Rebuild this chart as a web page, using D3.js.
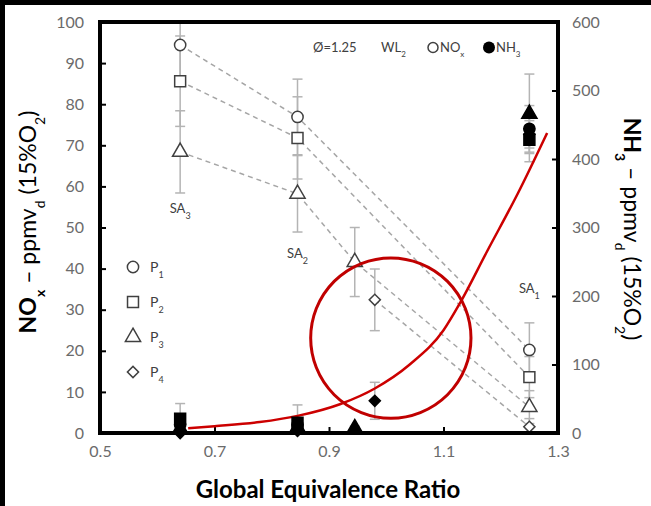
<!DOCTYPE html>
<html><head><meta charset="utf-8">
<script src="https://cdn.jsdelivr.net/npm/d3@7"></script>
<style>
html,body{margin:0;padding:0;background:#fff;}
svg{display:block;}
text{font-family:Lato,"Open Sans",sans-serif;}
</style></head>
<body>
<svg id="chart" width="651" height="506"></svg>
<script>
// ---------- data ----------
const xTicks = [0.5, 0.7, 0.9, 1.1, 1.3];
const yLeftTicks = [0,10,20,30,40,50,60,70,80,90,100];
const yRightTicks = [0,100,200,300,400,500,600];

// NOx (left axis) [phi, value, error]
const noxP1 = [[0.64,94.4,10],[0.845,76.9,9.2],[1.25,20.2,6.6]];
const noxP2 = [[0.64,85.6,11],[0.845,71.8,10],[1.25,13.6,5]];
const noxP3 = [[0.64,68.4,10],[0.845,58.2,9.3],[0.945,41.6,8.4],[1.25,6.3,4]];
const noxP4 = [[0.98,32.4,7.5],[1.25,1.5,2]];

// NH3 (right axis) [phi, value, error]
const nh3P1 = [[0.64,12,8],[0.845,12,8],[1.25,444,34]];
const nh3P2 = [[0.64,21,22],[0.845,15,26],[1.25,428,32]];
const nh3P3 = [[0.64,6,5],[0.845,8,5],[0.945,7,3],[1.25,466,58]];
const nh3P4 = [[0.64,0,3],[0.845,3,3],[0.98,47,27],[1.25,436,20]];

// red trend curve (right axis)
const trend = [[0.654,7],[0.70,10],[0.779,16],[0.845,25],[0.919,42],[0.98,65],[1.041,100],[1.10,150],[1.129,190],[1.176,265],[1.23,350],[1.281,438]];

// red highlight ellipse (left-axis units)
const highlight = {x:1.008, y:23.1, rx:0.14, ry:19.5};

// SA labels [phi, leftValue, number]
const saLabels = [[0.64,53.5,"3"],[0.845,42.5,"2"],[1.25,34.0,"1"]];
const legendNames = ["1","2","3","4"];

// ---------- layout ----------
const svg = d3.select("#chart");
const W = 651, H = 506;
const m = {l:100, t:22, r:93, b:73};
const w = W - m.l - m.r, h = H - m.t - m.b;

svg.append("rect").attr("x",0).attr("y",0).attr("width",W).attr("height",5).attr("fill","#000");
svg.append("rect").attr("x",0).attr("y",0).attr("width",5).attr("height",H).attr("fill","#000");

const x = d3.scaleLinear().domain([0.5,1.3]).range([0,w]);
const yL = d3.scaleLinear().domain([0,100]).range([h,0]);
const yR = d3.scaleLinear().domain([0,600]).range([h,0]);

const g = svg.append("g").attr("transform",`translate(${m.l},${m.t})`);

const grey = "#a6a6a6";
const errGrey = "#b4b4b4";
const tickCol = "#6b6b6b";

// axes
function styleAxis(sel){
  sel.select(".domain").remove();
  sel.selectAll(".tick line").attr("stroke","#000").attr("stroke-width",2);
  sel.selectAll(".tick text").attr("fill",tickCol).style("font-size","16px").style("font-family","Lato, sans-serif");
}
g.append("g").call(d3.axisLeft(yL).tickValues(yLeftTicks).tickSize(-6).tickPadding(16)).call(styleAxis);
g.append("g").attr("transform",`translate(${w},0)`).call(d3.axisRight(yR).tickValues(yRightTicks).tickSize(-6).tickPadding(14)).call(styleAxis);
g.append("g").attr("transform",`translate(0,${h})`).call(d3.axisBottom(x).tickValues(xTicks).tickFormat(d3.format(".1f")).tickSize(-6).tickPadding(13)).call(styleAxis);

// dashed connecting lines
const lineL = d3.line().x(d=>x(d[0])).y(d=>yL(d[1]));
[noxP1,noxP2,noxP3,noxP4].forEach(s=>{
  g.append("path").attr("d",lineL(s)).attr("fill","none").attr("stroke",grey)
   .attr("stroke-width",1.5).attr("stroke-dasharray","5,4");
});

// error bars
function errBars(series, ys){
  series.forEach(d=>{
    const cx = x(d[0]), y1 = ys(Math.min(ys.domain()[1], d[1]+d[2])), y0 = ys(Math.max(0,d[1]-d[2]));
    g.append("line").attr("x1",cx).attr("x2",cx).attr("y1",y1).attr("y2",y0).attr("stroke",errGrey).attr("stroke-width",1.5);
    [y1,y0].forEach(yy=>g.append("line").attr("x1",cx-5).attr("x2",cx+5).attr("y1",yy).attr("y2",yy).attr("stroke",errGrey).attr("stroke-width",1.5));
  });
}
[noxP1,noxP2,noxP3,noxP4].forEach(s=>errBars(s,yL));
[nh3P1,nh3P2,nh3P3,nh3P4].forEach(s=>errBars(s,yR));

// red trend curve
const lineR = d3.line().x(d=>x(d[0])).y(d=>yR(d[1])).curve(d3.curveMonotoneX);
g.append("path").attr("d",lineR(trend)).attr("fill","none").attr("stroke","#cc0000").attr("stroke-width",2.5);

// markers
const shapes = [
  {t:d3.symbolCircle, s:100, rot:0},
  {t:d3.symbolSquare, s:120, rot:0},
  {t:d3.symbolTriangle, s:100, rot:0},
  {t:d3.symbolSquare, s:62, rot:45}
];
function markers(series, ys, k, filled){
  const sh = shapes[k];
  series.forEach(d=>{
    g.append("path").attr("d",d3.symbol().type(sh.t).size(sh.s)())
     .attr("transform",`translate(${x(d[0])},${ys(d[1])}) rotate(${sh.rot})`)
     .attr("fill",filled?"#000":"#fff").attr("stroke",filled?"#000":"#404040").attr("stroke-width",1.5);
  });
}
[nh3P4,nh3P1,nh3P2,nh3P3].forEach((s,i)=>markers(s,yR,[3,0,1,2][i],true));
[noxP1,noxP2,noxP3,noxP4].forEach((s,i)=>markers(s,yL,i,false));

// highlight ellipse
g.append("ellipse").attr("cx",x(highlight.x)).attr("cy",yL(highlight.y))
 .attr("rx",x(highlight.x+highlight.rx)-x(highlight.x)).attr("ry",yL(0)-yL(highlight.ry))
 .attr("fill","none").attr("stroke","#c00000").attr("stroke-width",3);

// frame
g.append("rect").attr("x",0).attr("y",0).attr("width",w).attr("height",h).attr("fill","none").attr("stroke","#000").attr("stroke-width",4);

// SA labels
saLabels.forEach(d=>{
  const t = g.append("text").attr("x",x(d[0])).attr("y",yL(d[1])).attr("text-anchor","middle")
   .attr("fill","#404040").style("font-size","13px");
  t.append("tspan").text("SA");
  t.append("tspan").attr("baseline-shift","sub").style("font-size","9px").text(d[2]);
});

// P legend
legendNames.forEach((n,i)=>{
  const ly = 245 + i*35, lx = 33;
  const sh = shapes[i];
  g.append("path").attr("d",d3.symbol().type(sh.t).size(sh.s)())
   .attr("transform",`translate(${lx},${ly}) rotate(${sh.rot})`)
   .attr("fill","#fff").attr("stroke","#404040").attr("stroke-width",1.5);
  const t = g.append("text").attr("x",lx+17).attr("y",ly+5).attr("fill","#404040").style("font-size","14px");
  t.append("tspan").text("P");
  t.append("tspan").attr("baseline-shift","sub").style("font-size","9px").text(n);
});

// top legend
const tl = g.append("g").attr("fill","#404040").style("font-size","13px");
tl.append("text").attr("x",213).attr("y",30).text("Ø=1.25");
const wl = tl.append("text").attr("x",281).attr("y",30);
wl.append("tspan").text("WL");
wl.append("tspan").attr("baseline-shift","sub").style("font-size","8px").text("2");
g.append("circle").attr("cx",333).attr("cy",25.5).attr("r",5).attr("fill","#fff").attr("stroke","#404040").attr("stroke-width",1.5);
const nx = tl.append("text").attr("x",340).attr("y",30);
nx.append("tspan").text("NO");
nx.append("tspan").attr("baseline-shift","sub").style("font-size","8px").text("x");
g.append("circle").attr("cx",389).attr("cy",25.5).attr("r",6).attr("fill","#000");
const nh = tl.append("text").attr("x",396).attr("y",30);
nh.append("tspan").text("NH");
nh.append("tspan").attr("baseline-shift","sub").style("font-size","8px").text("3");

// axis titles
function title(parent, parts){
  const t = parent.append("text").attr("text-anchor","middle").attr("fill","#000").style("font-size","23px");
  parts.forEach(p=>{
    const s = t.append("tspan").text(p[0]);
    if (p[1]) s.style("font-weight","bold");
    if (p[2]) s.attr("baseline-shift","sub").style("font-size","14px");
  });
  return t;
}
title(svg.append("g").attr("transform","translate(36,222) rotate(-90)"),
  [["NO",1],["x",1,1],[" – ppmv",0],["d",0,1],[" (15%O",0],["2",0,1],[")",0]]);
title(svg.append("g").attr("transform","translate(624,229) rotate(90)"),
  [["NH",1],["3",1,1],[" – ppmv",0],["d",0,1],[" (15%O",0],["2",0,1],[")",0]]);
const xt = svg.append("text").attr("x",328).attr("y",498).attr("text-anchor","middle")
  .style("font-size","24px").style("font-weight","bold").attr("fill","#000").text("Global Equivalence Ratio");
</script>
</body></html>
